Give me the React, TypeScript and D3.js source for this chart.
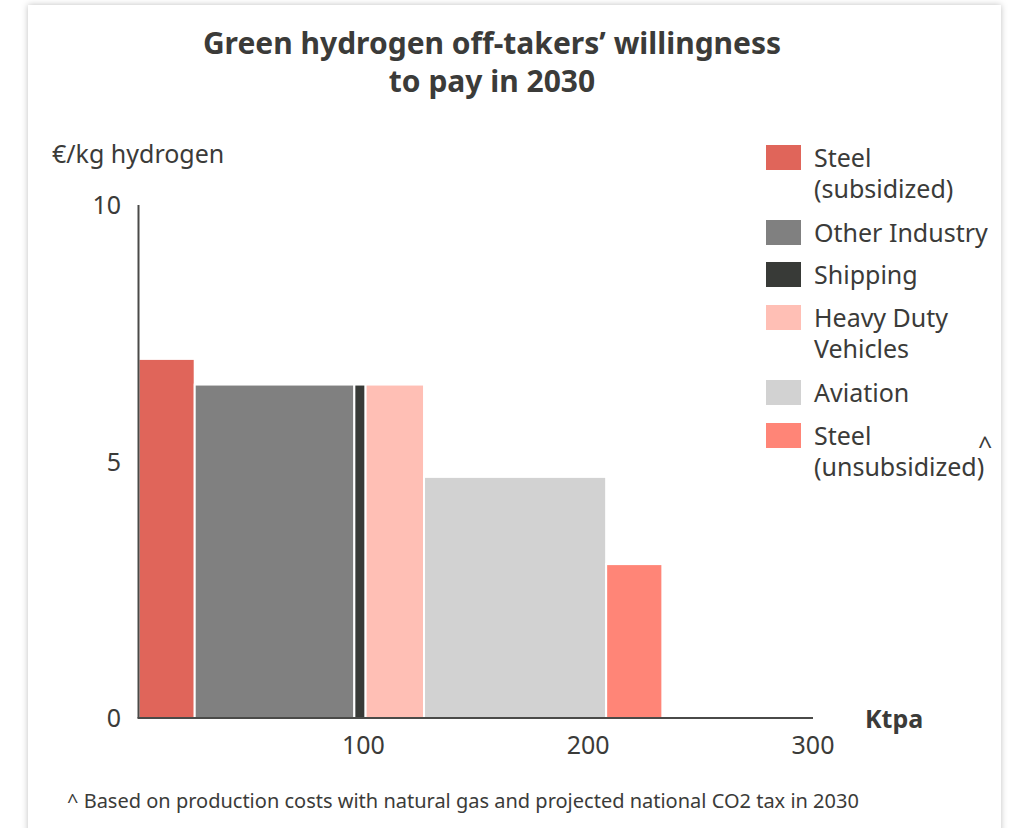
import React from "react";
import * as d3 from "d3";

// Off-taker segments, in merit order along the demand axis
const sectors = [
  "Steel (subsidized)",
  "Other Industry",
  "Shipping",
  "Heavy Duty Vehicles",
  "Aviation",
  "Steel (unsubsidized)",
];
// Demand volume of each segment, Ktpa
const volumes = [25, 71, 5, 26, 81, 25];
// Willingness to pay, €/kg hydrogen
const prices = [7, 6.5, 6.5, 6.5, 4.7, 3];
const colors = ["#E0655A", "#808080", "#383A37", "#FFBFB5", "#D2D2D2", "#FF8577"];

// Legend labels, wrapped as drawn
const legendLines = [
  ["Steel", "(subsidized)"],
  ["Other Industry"],
  ["Shipping"],
  ["Heavy Duty", "Vehicles"],
  ["Aviation"],
  ["Steel", "(unsubsidized)"],
];

const xTicks = [100, 200, 300];
const yTicks = [0, 5, 10];

const W = 1012;
const H = 828;
const FONT = "'Noto Sans', 'Open Sans', sans-serif";
const TEXT = "#3b3b39";

export default function App() {
  const x = d3.scaleLinear().domain([0, 300]).range([138.5, 813]);
  const y = d3.scaleLinear().domain([0, 10]).range([718, 205]);

  const starts = d3.cumsum([0, ...volumes.slice(0, -1)]);
  const bars = sectors.map((s, i) => ({
    name: s,
    x0: starts[i],
    x1: starts[i] + volumes[i],
    v: prices[i],
    color: colors[i],
  }));

  // Legend rows: swatch tops
  const legendRows = [145, 220, 262, 305, 380, 423];

  return (
    <svg
      width={W}
      height={H}
      style={{ position: "absolute", left: 0, top: 0, background: "#fff" }}
    >
      <defs>
        <filter id="cardShadow" x="-5%" y="-5%" width="110%" height="110%">
          <feDropShadow dx="0" dy="0" stdDeviation="3" floodColor="#000" floodOpacity="0.25" />
        </filter>
      </defs>
      <rect x={28} y={5} width={973} height={860} fill="#fff" filter="url(#cardShadow)" />

      <text
        x={492}
        y={54}
        textAnchor="middle"
        fontFamily={FONT}
        fontWeight={700}
        fontSize={30}
        fill={TEXT}
      >
        Green hydrogen off-takers’ willingness
      </text>
      <text
        x={492}
        y={92}
        textAnchor="middle"
        fontFamily={FONT}
        fontWeight={700}
        fontSize={30}
        fill={TEXT}
      >
        to pay in 2030
      </text>

      <text x={52} y={163} fontFamily={FONT} fontSize={25} fill={TEXT}>
        €/kg hydrogen
      </text>

      {bars.map((b) => (
        <rect
          key={b.name}
          x={x(b.x0)}
          y={y(b.v)}
          width={x(b.x1) - x(b.x0)}
          height={y(0) - y(b.v)}
          fill={b.color}
          stroke="#fff"
          strokeWidth={2}
        />
      ))}

      {/* axes */}
      <line x1={x(0)} x2={x(0)} y1={y(10)} y2={y(0)} stroke="#4a4a48" strokeWidth={2} />
      <line x1={x(0) - 1} x2={x(300)} y1={y(0)} y2={y(0)} stroke="#4a4a48" strokeWidth={2} />

      {yTicks.map((t) => (
        <text
          key={t}
          x={121}
          y={y(t)}
          dy="0.36em"
          textAnchor="end"
          fontFamily={FONT}
          fontSize={25}
          fill={TEXT}
        >
          {t}
        </text>
      ))}
      {xTicks.map((t) => (
        <text
          key={t}
          x={x(t)}
          y={754}
          textAnchor="middle"
          fontFamily={FONT}
          fontSize={25}
          fill={TEXT}
        >
          {t}
        </text>
      ))}
      <text x={865} y={728} fontFamily={FONT} fontWeight={700} fontSize={25} fill={TEXT}>
        Ktpa
      </text>

      {/* legend */}
      {sectors.map((s, i) => (
        <g key={s}>
          <rect x={766} y={legendRows[i]} width={35} height={25} fill={colors[i]} />
          {legendLines[i].map((line, j) => (
            <text
              key={j}
              x={814}
              y={legendRows[i] + 22 + j * 31}
              fontFamily={FONT}
              fontSize={25}
              fill={TEXT}
            >
              {line}
            </text>
          ))}
        </g>
      ))}
      <text x={978} y={455} fontFamily={FONT} fontSize={25} fill={TEXT}>
        ^
      </text>

      <text x={67} y={808} fontFamily={FONT} fontSize={20} fill={TEXT}>
        ^ Based on production costs with natural gas and projected national CO2 tax in 2030
      </text>
    </svg>
  );
}
